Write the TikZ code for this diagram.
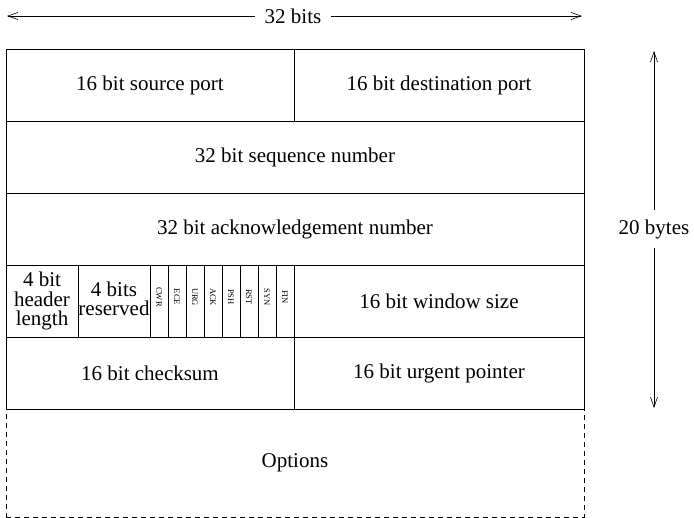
\documentclass[tikz,border=0pt]{standalone}
\usepackage{fontspec}
\setmainfont{Liberation Serif}
\usetikzlibrary{arrows.meta}
\tikzset{
  txt/.style={font=\fontsize{21}{19.5}\selectfont},
  cell/.style={draw, line width=0.8pt, inner sep=0pt, outer sep=0pt, align=center, txt},
  flag/.style={draw, line width=0.8pt, inner sep=0pt, outer sep=0pt, minimum width=18pt, minimum height=72pt},
  flagtxt/.style={rotate=-90, inner sep=0pt, font=\fontsize{8.5}{9}\selectfont},
  dimhalf/.style={line width=0.6pt, -{Straight Barb[length=10pt,width=7pt]}},
  lbl/.style={inner sep=0pt, txt},
  mtxt/.style={inner sep=0pt, align=center, txt},
  optbox/.style={draw, dashed, dash pattern=on 5pt off 4pt, line width=0.8pt, inner sep=0pt, txt}
}
\begin{document}
\begin{tikzpicture}[x=1pt,y=-1pt]
\useasboundingbox (0,0) rectangle (694,518);
% row 1
\node[cell, minimum width=288pt, minimum height=72pt] (sport) at (150,85) {16 bit source port};
\node[cell, minimum width=290pt, minimum height=72pt] (dport) at (439,85) {16 bit destination port};
% row 2
\node[cell, minimum width=578pt, minimum height=72pt] (seq) at (295,157) {32 bit sequence number};
% row 3
\node[cell, minimum width=578pt, minimum height=72pt] (ackn) at (295,229) {32 bit acknowledgement number};
% row 4
\node[cell, minimum width=72pt, minimum height=72pt] (hlen) at (42,301) {4 bit\\header\\length};
\node[flag, minimum width=72pt] (res) at (114,301) {};
\node[mtxt] (restxt) at (114,299) {4 bits\\reserved};
\node[flag] (f1) at (159,301) {};
\node[flag] (f2) at (177,301) {};
\node[flag] (f3) at (195,301) {};
\node[flag] (f4) at (213,301) {};
\node[flag] (f5) at (231,301) {};
\node[flag] (f6) at (249,301) {};
\node[flag] (f7) at (267,301) {};
\node[flag] (f8) at (285,301) {};
\node[flagtxt] (t1) at (159,297) {CWR};
\node[flagtxt] (t2) at (177,297) {ECE};
\node[flagtxt] (t3) at (195,297) {URG};
\node[flagtxt] (t4) at (213,297) {ACK};
\node[flagtxt] (t5) at (231,297) {PSH};
\node[flagtxt] (t6) at (249,297) {RST};
\node[flagtxt] (t7) at (267,297) {SYN};
\node[flagtxt] (t8) at (285,297) {FIN};
\node[cell, minimum width=290pt, minimum height=72pt] (win) at (439,301) {16 bit window size};
% row 5
\node[cell, minimum width=288pt, minimum height=72pt] (cks) at (150,373) {16 bit checksum};
\node[cell, minimum width=290pt, minimum height=72pt] (urg) at (439,373) {16 bit urgent pointer};
% options
\node[optbox, minimum width=578pt, minimum height=108pt] (opt) at (295,463) {Options};
% 32 bits
\node[lbl, inner xsep=10pt] (bits) at (293,16) {32 bits};
\coordinate (bl) at (7,16);
\coordinate (br) at (582,16);
\draw[dimhalf] (bits.west) -- (bl);
\draw[dimhalf] (bits.east) -- (br);
% 20 bytes
\node[lbl, inner ysep=9pt] (bytes) at (654,229) {20 bytes};
\coordinate (bt) at (654,51);
\coordinate (bb) at (654,408);
\draw[dimhalf] (bytes.north) -- (bt);
\draw[dimhalf] (bytes.south) -- (bb);
\end{tikzpicture}
\end{document}
